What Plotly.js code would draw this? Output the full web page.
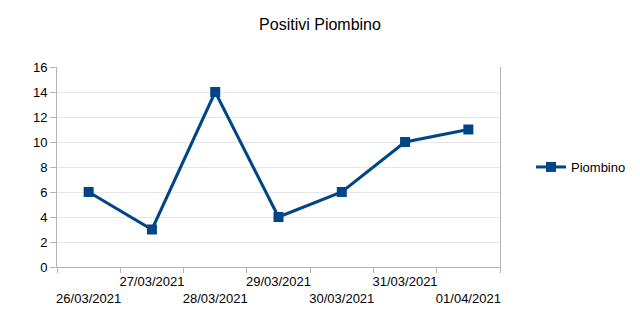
<!DOCTYPE html>
<html>
<head>
<meta charset="utf-8">
<script src="https://cdn.plot.ly/plotly-3.0.1.min.js"></script>
<style>html,body{margin:0;padding:0;background:#fff;}#chart{width:640px;height:328px;}</style>
</head>
<body>
<div id="chart"></div>
<script>
const categories = ["26/03/2021","27/03/2021","28/03/2021","29/03/2021","30/03/2021","31/03/2021","01/04/2021"];
const values = [6, 3, 14, 4, 6, 10, 11];
const seriesName = "Piombino";
const yTicks = [0, 2, 4, 6, 8, 10, 12, 14, 16];

const tickText = categories.map((c, i) => (i % 2 === 0 ? "<br>" + c : c));

const trace = {
  x: categories,
  y: values,
  type: "scatter",
  mode: "lines+markers",
  name: seriesName,
  line: {color: "#004586", width: 3},
  marker: {symbol: "square", size: 10, color: "#004586"}
};

const layout = {
  width: 640, height: 328,
  margin: {l: 57, r: 140, t: 67, b: 61, autoexpand: false},
  paper_bgcolor: "#fff", plot_bgcolor: "#fff",
  font: {family: "Liberation Sans, Arial, sans-serif", size: 13, color: "#000"},
  title: {text: "Positivi Piombino", font: {size: 16, color: "#000"}, x: 0.5, xanchor: "center", y: 0.925, yref: "container", yanchor: "middle"},
  showlegend: true,
  legend: {x: 1.07, xanchor: "left", y: 0.5, yanchor: "middle", font: {size: 13}, bgcolor: "rgba(0,0,0,0)"},
  xaxis: {
    type: "category",
    tickmode: "array",
    tickvals: categories,
    ticktext: tickText,
    tickson: "boundaries",
    ticks: "outside", ticklen: 5, tickcolor: "#b3b3b3",
    ticklabelstandoff: 2,
    showgrid: false,
    showline: true, linecolor: "#b3b3b3", linewidth: 1,
    range: [-0.5, 6.5],
    tickangle: 0,
    zeroline: false
  },
  yaxis: {
    range: [0, 16],
    tickmode: "array", tickvals: yTicks,
    ticks: "outside", ticklen: 6, tickcolor: "#b3b3b3",
    showgrid: true, gridcolor: "#e6e6e6",
    showline: true, linecolor: "#b3b3b3", linewidth: 1, mirror: true,
    zeroline: false
  }
};

Plotly.newPlot("chart", [trace], layout, {staticPlot: true});
</script>
</body>
</html>
